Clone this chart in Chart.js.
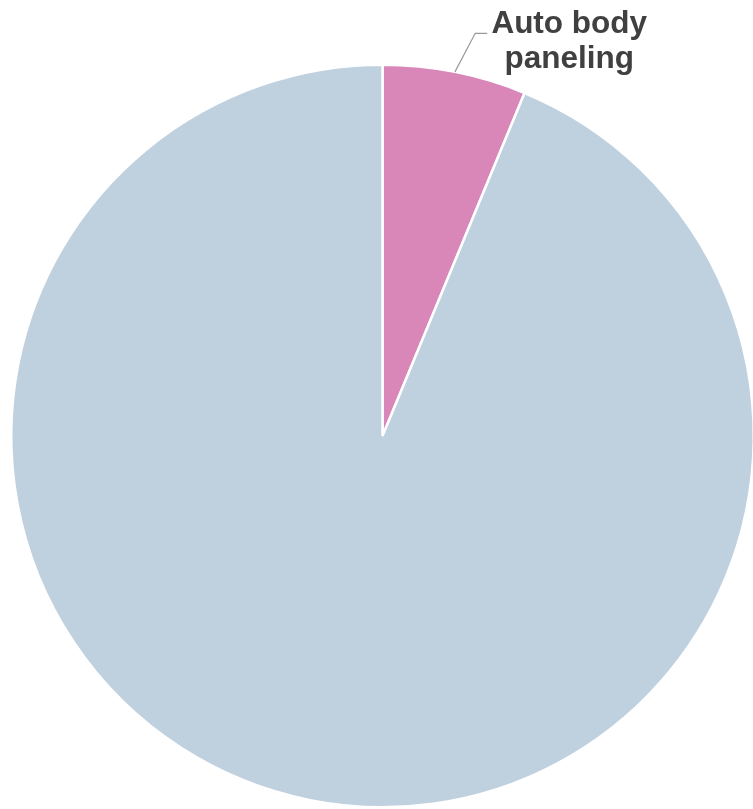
<!DOCTYPE html>
<html>
<head>
<meta charset="utf-8">
<script src="https://cdn.jsdelivr.net/npm/chart.js@4"></script>
<style>
    html, body { margin: 0; padding: 0; background: #fff; overflow: hidden; }
    #wrap { position: relative; width: 760px; height: 822px; }
</style>
</head>
<body>
<div id="wrap"><canvas id="pieChart"></canvas></div>
<script>
const labels = ["Auto body paneling", "Other"];
const values = [6.25, 93.75];
const colors = ["#d987b8", "#bfd0df"];
const shownLabels = [["Auto body", "paneling"], null];

// leader line + label for the small slice
const sliceLabels = {
    id: "sliceLabels",
    afterDatasetsDraw(chart) {
        const ctx = chart.ctx;
        const meta = chart.getDatasetMeta(0);
        meta.data.forEach((arc, i) => {
            const lines = shownLabels[i];
            if (!lines) return;
            const mid = (arc.startAngle + arc.endAngle) / 2;
            const sx = arc.x + Math.cos(mid) * arc.outerRadius;
            const sy = arc.y + Math.sin(mid) * arc.outerRadius;
            const ex = arc.x + Math.cos(mid + 0.03) * (arc.outerRadius + 42);
            const ey = arc.y + Math.sin(mid + 0.03) * (arc.outerRadius + 42);

            ctx.save();
            ctx.strokeStyle = "#999999";
            ctx.lineWidth = 1.2;
            ctx.beginPath();
            ctx.moveTo(sx, sy);
            ctx.lineTo(ex, ey);
            ctx.lineTo(ex + 12, ey);
            ctx.stroke();

            ctx.fillStyle = "#404040";
            ctx.font = "bold 31.5px 'Liberation Sans', Arial, sans-serif";
            ctx.textAlign = "center";
            ctx.textBaseline = "middle";
            const cx = ex + 94;
            lines.forEach((line, k) => {
                ctx.fillText(line, cx, ey - 9 + k * 35);
            });
            ctx.restore();
        });
    }
};

new Chart(document.getElementById("pieChart"), {
    type: "pie",
    data: {
        labels: labels,
        datasets: [{
            data: values,
            backgroundColor: colors,
            borderColor: "#ffffff",
            borderWidth: 2.5
        }]
    },
    options: {
        responsive: true,
        maintainAspectRatio: false,
        animation: false,
        layout: {
            padding: { left: 10, right: 5, top: 63, bottom: 13 }
        },
        plugins: {
            legend: { display: false },
            tooltip: { enabled: false }
        }
    },
    plugins: [sliceLabels]
});
</script>
</body>
</html>
